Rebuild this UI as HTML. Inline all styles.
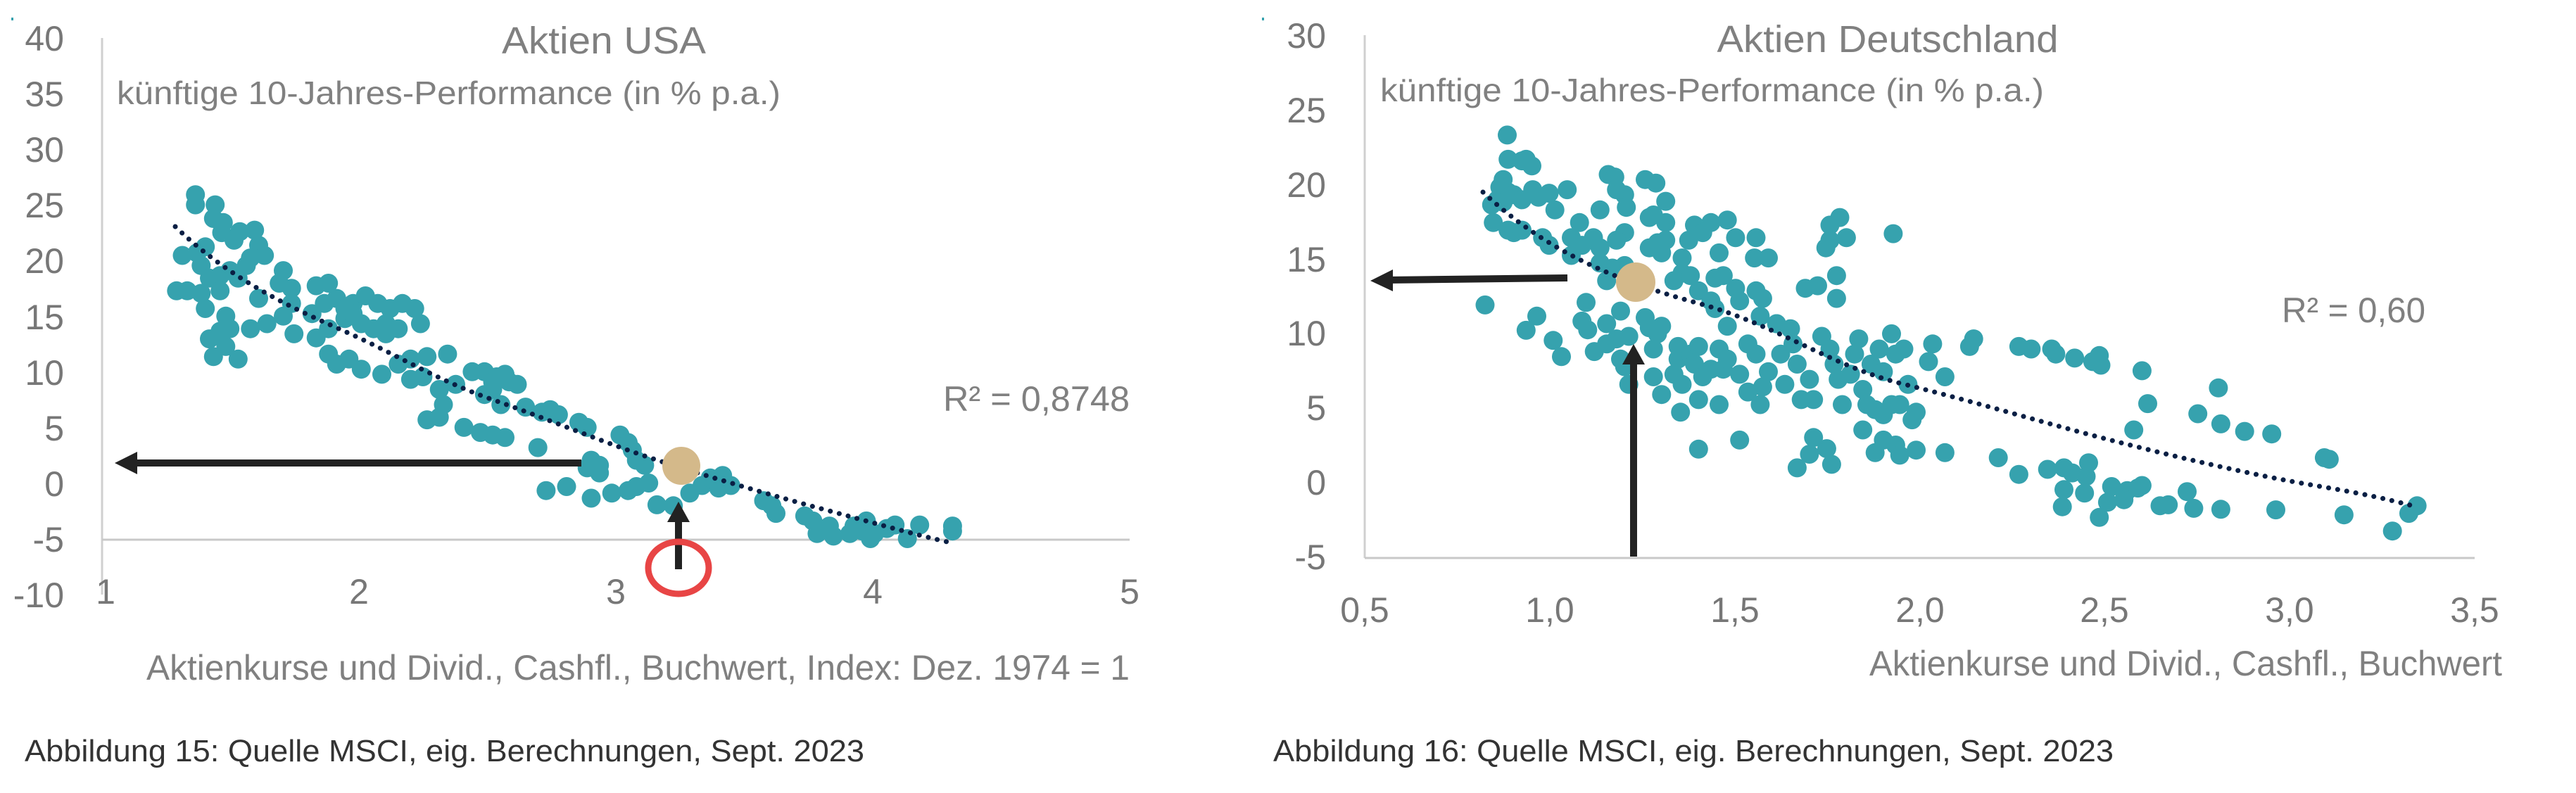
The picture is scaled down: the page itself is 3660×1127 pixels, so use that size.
<!DOCTYPE html>
<html><head><meta charset="utf-8"><style>
html,body{margin:0;padding:0;background:#fff;width:3660px;height:1127px;overflow:hidden}
svg{display:block}
text{font-family:"Liberation Sans",sans-serif}
</style></head><body>
<svg id="s" width="3660" height="1127" viewBox="0 0 3660 1127" xmlns="http://www.w3.org/2000/svg">
<rect x="16" y="25" width="3" height="4" fill="#36a2ae"/>
<rect x="1793" y="25" width="3" height="4" fill="#36a2ae"/>
<line x1="145" y1="54" x2="145" y2="845" stroke="#d0d0d0" stroke-width="3"/>
<line x1="145" y1="767" x2="1605" y2="767" stroke="#c8c8c8" stroke-width="3"/>
<g fill="#777" font-size="50" text-anchor="end">
<text x="91" y="72">40</text><text x="91" y="151">35</text><text x="91" y="230">30</text><text x="91" y="309">25</text><text x="91" y="388">20</text><text x="91" y="468">15</text><text x="91" y="547">10</text><text x="91" y="626">5</text><text x="91" y="705">0</text><text x="91" y="784">-5</text><text x="91" y="863">-10</text>
</g>
<g fill="#777" font-size="50" text-anchor="middle">
<text x="150" y="858">1</text><text x="510" y="858">2</text><text x="875" y="858">3</text><text x="1240" y="858">4</text><text x="1605" y="858">5</text>
</g>
<text x="858" y="76" fill="#808080" font-size="54" text-anchor="middle" textLength="290" lengthAdjust="spacingAndGlyphs">Aktien USA</text>
<text x="166" y="148" fill="#808080" font-size="46" textLength="943" lengthAdjust="spacingAndGlyphs">künftige 10-Jahres-Performance (in % p.a.)</text>
<text x="1340" y="584" fill="#808080" font-size="50" textLength="265" lengthAdjust="spacingAndGlyphs">R² = 0,8748</text>
<text x="208" y="966" fill="#808080" font-size="50" textLength="1397" lengthAdjust="spacingAndGlyphs">Aktienkurse und Divid., Cashfl., Buchwert, Index: Dez. 1974 = 1</text>
<text x="35" y="1082" fill="#333" font-size="44" textLength="1193" lengthAdjust="spacingAndGlyphs">Abbildung 15: Quelle MSCI, eig. Berechnungen, Sept. 2023</text>
<g id="dl"></g>
<path d="M249,322 C330,400 420,440 490,471 S620,540 700,568 S860,630 934,654 S1100,705 1167,723 S1300,760 1350,771" fill="none" stroke="#0a1f44" stroke-width="7" stroke-linecap="round" stroke-dasharray="0.1 13"/>
<circle cx="968" cy="662" r="27" fill="#d4b98a"/>
<line x1="826" y1="658" x2="185" y2="658" stroke="#222" stroke-width="10"/>
<polygon points="163,658 195,642 195,674" fill="#222"/>
<line x1="964" y1="809" x2="964" y2="738" stroke="#222" stroke-width="10"/>
<polygon points="964,713 948,742 980,742" fill="#222"/>
<ellipse cx="964" cy="807" rx="43" ry="37" fill="none" stroke="#e84545" stroke-width="9"/>
<line x1="1939" y1="50" x2="1939" y2="793" stroke="#d0d0d0" stroke-width="3"/>
<line x1="1939" y1="793" x2="3516" y2="793" stroke="#c8c8c8" stroke-width="3"/>
<g fill="#777" font-size="50" text-anchor="end">
<text x="1884" y="68">30</text><text x="1884" y="174">25</text><text x="1884" y="280">20</text><text x="1884" y="386">15</text><text x="1884" y="491">10</text><text x="1884" y="597">5</text><text x="1884" y="703">0</text><text x="1884" y="809">-5</text>
</g>
<g fill="#777" font-size="50" text-anchor="middle">
<text x="1939" y="884">0,5</text><text x="2202" y="884">1,0</text><text x="2465" y="884">1,5</text><text x="2728" y="884">2,0</text><text x="2990" y="884">2,5</text><text x="3253" y="884">3,0</text><text x="3516" y="884">3,5</text>
</g>
<text x="2682" y="74" fill="#808080" font-size="54" text-anchor="middle" textLength="485" lengthAdjust="spacingAndGlyphs">Aktien Deutschland</text>
<text x="1961" y="144" fill="#808080" font-size="46" textLength="943" lengthAdjust="spacingAndGlyphs">künftige 10-Jahres-Performance (in % p.a.)</text>
<text x="3242" y="458" fill="#808080" font-size="50" textLength="204" lengthAdjust="spacingAndGlyphs">R² = 0,60</text>
<text x="2656" y="960" fill="#808080" font-size="50" textLength="899" lengthAdjust="spacingAndGlyphs">Aktienkurse und Divid., Cashfl., Buchwert</text>
<text x="1809" y="1082" fill="#333" font-size="44" textLength="1194" lengthAdjust="spacingAndGlyphs">Abbildung 16: Quelle MSCI, eig. Berechnungen, Sept. 2023</text>
<g id="dr"></g>
<path d="M2107,273 C2200,360 2300,400 2413,431 S2600,520 2705,546 S2900,600 2997,625 S3200,675 3289,690 S3400,712 3429,719" fill="none" stroke="#0a1f44" stroke-width="7" stroke-linecap="round" stroke-dasharray="0.1 13"/>
<circle cx="2324" cy="401" r="28" fill="#d4b98a"/>
<line x1="2227" y1="395" x2="1970" y2="398" stroke="#222" stroke-width="10"/>
<polygon points="1947,399 1979,383 1979,414" fill="#222"/>
<line x1="2321" y1="791" x2="2321" y2="512" stroke="#222" stroke-width="10"/>
<polygon points="2321,489 2305,518 2337,518" fill="#222"/>
</svg>
<script>
var L=[[238,385],[238,405],[262,405],[260,432],[272,440],[270,460],[285,475],[292,458],[310,455],[315,485],[322,505],[300,525],[305,510],[250,488],[240,500],[222,505],[245,525],[255,550],[268,545],[280,535],[290,550],[215,575],[228,575],[245,580],[268,575],[250,610],[275,625],[280,650],[268,655],[255,670],[275,685],[260,705],[290,710],[305,650],[315,590],[325,640],[345,625],[345,535],[340,560],[355,600],[358,660],[355,570],[385,565],[400,560],[395,600],[380,620],[410,590],[430,600],[445,585],[460,600],[475,610],[490,600],[505,610],[512,640],[470,640],[455,650],[440,640],[420,630],[400,650],[385,668],[400,700],[410,720],[425,710],[440,730],[465,740],[485,720],[500,710],[520,705],[545,700],[500,750],[515,745],[535,770],[555,760],[575,735],[590,735],[605,745],[620,755],[630,760],[600,770],[590,780],[610,800],[640,805],[660,815],[670,810],[680,820],[540,800],[535,825],[520,830],[565,845],[585,855],[600,860],[615,865],[655,885],[705,835],[715,845],[755,860],[765,875],[770,890],[775,910],[785,920],[720,910],[730,920],[715,925],[730,935],[665,970],[690,962],[720,985],[745,975],[765,970],[775,962],[790,955],[800,998],[820,1000],[840,975],[855,960],[865,945],[880,940],[890,960],[875,965],[930,990],[940,1000],[945,1015],[980,1020],[990,1030],[995,1055],[1010,1040],[1015,1060],[1040,1040],[1050,1050],[1055,1030],[1060,1065],[1080,1045],[1090,1038],[1105,1065],[1120,1038],[1160,1040],[1160,1050],[1065,1055],[1035,1055],[430,620],[420,610],[470,660],[485,650],[600,755],[615,740]];
var R=[[267,267],[268,315],[285,318],[290,315],[297,328],[262,355],[258,370],[268,380],[275,385],[255,395],[248,405],[262,400],[285,395],[298,375],[305,390],[318,382],[340,375],[325,415],[250,440],[268,455],[275,460],[285,455],[310,470],[318,485],[345,470],[355,440],[372,470],[380,415],[390,345],[398,350],[400,375],[410,385],[412,410],[435,355],[448,362],[460,398],[440,430],[445,425],[460,440],[410,460],[400,475],[380,490],[345,505],[358,485],[388,555],[380,520],[395,530],[410,525],[440,490],[450,480],[460,475],[455,500],[470,555],[480,510],[488,475],[495,445],[505,460],[515,440],[535,435],[545,470],[570,470],[525,500],[480,540],[490,545],[500,575],[520,550],[530,545],[545,570],[550,595],[515,595],[520,610],[535,645],[570,575],[578,590],[568,510],[585,510],[575,625],[595,640],[612,650],[630,570],[645,565],[668,545],[668,590],[655,490],[660,475],[672,430],[680,470],[660,445],[737,462],[240,603],[363,598],[405,615],[303,625],[290,653],[323,673],[333,705],[358,635],[365,652],[373,695],[388,640],[388,680],[400,670],[415,665],[405,710],[410,725],[415,760],[435,628],[440,648],[450,660],[455,645],[445,690],[445,745],[455,780],[475,685],[475,710],[470,740],[480,760],[478,815],[490,700],[495,720],[500,685],[505,745],[500,790],[515,730],[525,690],[530,730],[535,710],[525,800],[550,740],[560,680],[570,700],[560,775],[578,765],[575,800],[585,735],[595,640],[600,700],[605,760],[615,680],[620,720],[625,790],[635,750],[640,790],[650,665],[660,690],[665,720],[670,750],[675,800],[690,700],[695,670],[685,740],[700,770],[710,720],[720,690],[725,735],[735,660],[740,700],[750,690],[755,760],[745,800],[705,800],[715,810],[725,820],[735,800],[760,830],[765,815],[780,715],[785,680],[800,745],[830,685],[835,670],[700,850],[725,870],[740,880],[745,900],[765,890],[800,895],[715,895],[500,888],[550,870],[640,865],[635,898],[656,887],[620,925],[662,918],[865,905],[890,685],[905,690],[930,690],[935,700],[958,708],[980,715],[988,703],[990,722],[1040,733],[1047,798],[1030,850],[1108,818],[1133,767],[1136,838],[1165,853],[1198,858],[1262,905],[1268,908],[890,938],[925,928],[945,925],[955,935],[945,968],[972,942],[975,915],[970,975],[943,1002],[1003,962],[998,993],[988,1023],[1018,988],[1022,970],[1035,965],[1040,960],[1062,1000],[1072,998],[1095,972],[1103,1005],[1136,1007],[1203,1008],[1286,1018],[1345,1050],[1365,1015],[1375,1000]];
function draw(id,arr,ox){var g=document.getElementById(id),s="";for(var i=0;i<arr.length;i++){s+='<circle cx="'+(ox+arr[i][0]*1.1667).toFixed(1)+'" cy="'+(arr[i][1]*0.7188).toFixed(1)+'" r="13.5" fill="#36a2ae"/>';}g.innerHTML=s;}
draw("dl",L,0);draw("dr",R,1830);
</script>
</body></html>
